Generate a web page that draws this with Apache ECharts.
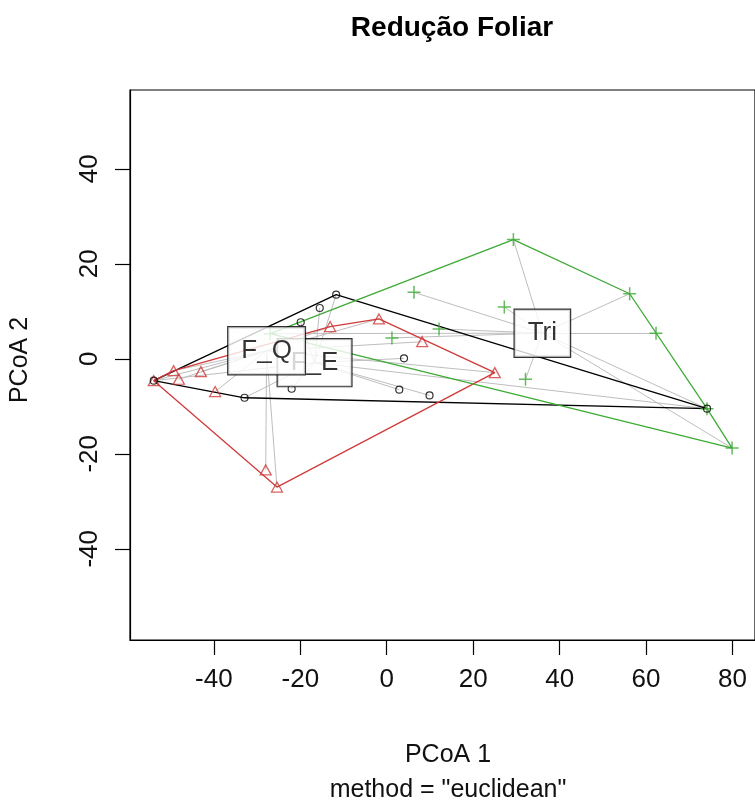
<!DOCTYPE html>
<html>
<head>
<meta charset="utf-8">
<script src="https://cdn.jsdelivr.net/npm/echarts@6/dist/echarts.min.js"></script>
<style>
html,body{margin:0;padding:0;background:#fff;}
#chart{width:755px;height:804px;}
</style>
</head>
<body>
<div id="chart"></div>
<script>
// ---- data ----
var titleText = 'Redução Foliar';
var xTitle = 'PCoA 1';
var subTitle = 'method = "euclidean"';
var yTitle = 'PCoA 2';

var xTicks = [-40, -20, 0, 20, 40, 60, 80];
var yTicks = [-40, -20, 0, 20, 40];

var groupNames = ['F_E', 'F_Q', 'Tri'];

var feX = [-53.9, -32.9, -22.0, -19.9, -15.5, -11.7, 4.0, 2.9, 9.9, 74.1];
var feY = [-4.6, -8.2, -6.3, 7.7, 10.7, 13.5, 0.1, -6.5, -7.7, -10.5];

var fqX = [-53.9, -49.3, -48.1, -43.0, -39.7, -28.0, -25.4, -13.1, -1.8, 8.2, 25.0];
var fqY = [-4.6, -2.5, -4.3, -2.7, -6.9, -23.4, -27.0, 6.8, 8.4, 3.6, -2.9];

var triX = [-27.0, 1.2, 6.3, 12.1, 27.2, 29.3, 32.1, 56.2, 62.3, 79.9, 74.1];
var triY = [5.3, 4.4, 14.0, 6.3, 10.9, 25.1, -4.3, 13.7, 5.4, -18.8, -10.5];

var centroidX = [-16.7, -27.8, 36.0];
var centroidY = [-0.8, 1.7, 5.4];

// ---- helpers ----
function pairs(xs, ys) { return xs.map(function (x, i) { return [x, ys[i]]; }); }
function hull(pts) {
  var p = pts.slice().sort(function (a, b) { return a[0] - b[0] || a[1] - b[1]; });
  function cross(o, a, b) { return (a[0] - o[0]) * (b[1] - o[1]) - (a[1] - o[1]) * (b[0] - o[0]); }
  var lower = [], upper = [];
  p.forEach(function (q) { while (lower.length >= 2 && cross(lower[lower.length - 2], lower[lower.length - 1], q) <= 0) lower.pop(); lower.push(q); });
  p.slice().reverse().forEach(function (q) { while (upper.length >= 2 && cross(upper[upper.length - 2], upper[upper.length - 1], q) <= 0) upper.pop(); upper.push(q); });
  upper.pop(); lower.pop();
  var h = lower.concat(upper);
  h.push(h[0]);
  return h;
}

var groups = [pairs(feX, feY), pairs(fqX, fqY), pairs(triX, triY)];
var colors = ['#000000', '#D03A3A', '#3DAA35'];

var segData = [];
groups.forEach(function (g, gi) {
  g.forEach(function (p) { segData.push({ coords: [p, [centroidX[gi], centroidY[gi]]] }); });
});

var FONT = '"Liberation Sans", Arial, sans-serif';

var series = [];
series.push({
  type: 'lines', coordinateSystem: 'cartesian2d', z: 1, silent: true,
  lineStyle: { color: '#BEBEBE', width: 1, opacity: 1 },
  data: segData
});
groups.forEach(function (g, gi) {
  series.push({
    type: 'line', z: 2, data: hull(g), symbol: 'none', silent: true,
    lineStyle: { color: colors[gi], width: 1.3 }
  });
});
// points: Tri first, then F_Q, then F_E
series.push({
  type: 'scatter', z: 3, data: groups[2], symbol: 'path://M5,0 L5,10 M0,5 L10,5', symbolSize: 13,
  itemStyle: { color: 'none', borderColor: colors[2], borderWidth: 1.5 }
});
series.push({
  type: 'scatter', z: 3, data: groups[1], symbol: 'triangle', symbolSize: [11, 10],
  itemStyle: { color: 'rgba(255,255,255,0)', borderColor: colors[1], borderWidth: 1.3 }
});
series.push({
  type: 'scatter', z: 3, data: groups[0], symbol: 'circle', symbolSize: 7,
  itemStyle: { color: 'rgba(255,255,255,0)', borderColor: colors[0], borderWidth: 1.2 }
});
// centroid labels (F_E below F_Q)
groupNames.forEach(function (name, gi) {
  series.push({
    type: 'scatter', z: gi === 0 ? 4 : 5, symbolSize: 0, silent: true,
    data: [[centroidX[gi], centroidY[gi]]],
    label: {
      show: true, position: 'inside', formatter: name,
      fontFamily: FONT, fontSize: 26, color: '#000',
      backgroundColor: '#ffffff', borderColor: '#000', borderWidth: 1.2,
      padding: [11, 13, 10, 13], lineHeight: 26
    }
  });
});

var chart = echarts.init(document.getElementById('chart'), null, { renderer: 'canvas' });
chart.setOption({
  animation: false,
  backgroundColor: '#ffffff',
  grid: { left: 130, top: 90, bottom: 164, right: -10, show: true, borderColor: '#000', borderWidth: 1.2, backgroundColor: 'transparent' },
  xAxis: {
    type: 'value', min: -59.4, max: 85.2,
    axisLine: { show: true, onZero: false, lineStyle: { color: '#000', width: 1.2 } },
    axisTick: { show: true, length: 15, customValues: xTicks, lineStyle: { color: '#000', width: 1.2 } },
    axisLabel: { show: true, customValues: xTicks, margin: 27, fontFamily: FONT, fontSize: 26, color: '#111' },
    splitLine: { show: false }
  },
  yAxis: {
    type: 'value', min: -59.2, max: 56.6,
    axisLine: { show: true, onZero: false, lineStyle: { color: '#000', width: 1.2 } },
    axisTick: { show: true, length: 15, customValues: yTicks, lineStyle: { color: '#000', width: 1.2 } },
    axisLabel: { show: true, customValues: yTicks, rotate: 90, margin: 27, fontFamily: FONT, fontSize: 26, color: '#111' },
    splitLine: { show: false }
  },
  graphic: [
    { type: 'text', x: 452, y: 28, style: { text: titleText, align: 'center', verticalAlign: 'middle', fontFamily: FONT, fontSize: 28, fontWeight: 'bold', fill: '#000' } },
    { type: 'text', x: 448, y: 755, style: { text: xTitle, align: 'center', verticalAlign: 'middle', fontFamily: FONT, fontSize: 25, fill: '#111' } },
    { type: 'text', x: 448, y: 790, style: { text: subTitle, align: 'center', verticalAlign: 'middle', fontFamily: FONT, fontSize: 25, fill: '#111' } },
    { type: 'text', x: 20, y: 360, rotation: Math.PI / 2, style: { text: yTitle, align: 'center', verticalAlign: 'middle', fontFamily: FONT, fontSize: 25, fill: '#111' } }
  ],
  series: series
});
</script>
</body>
</html>
